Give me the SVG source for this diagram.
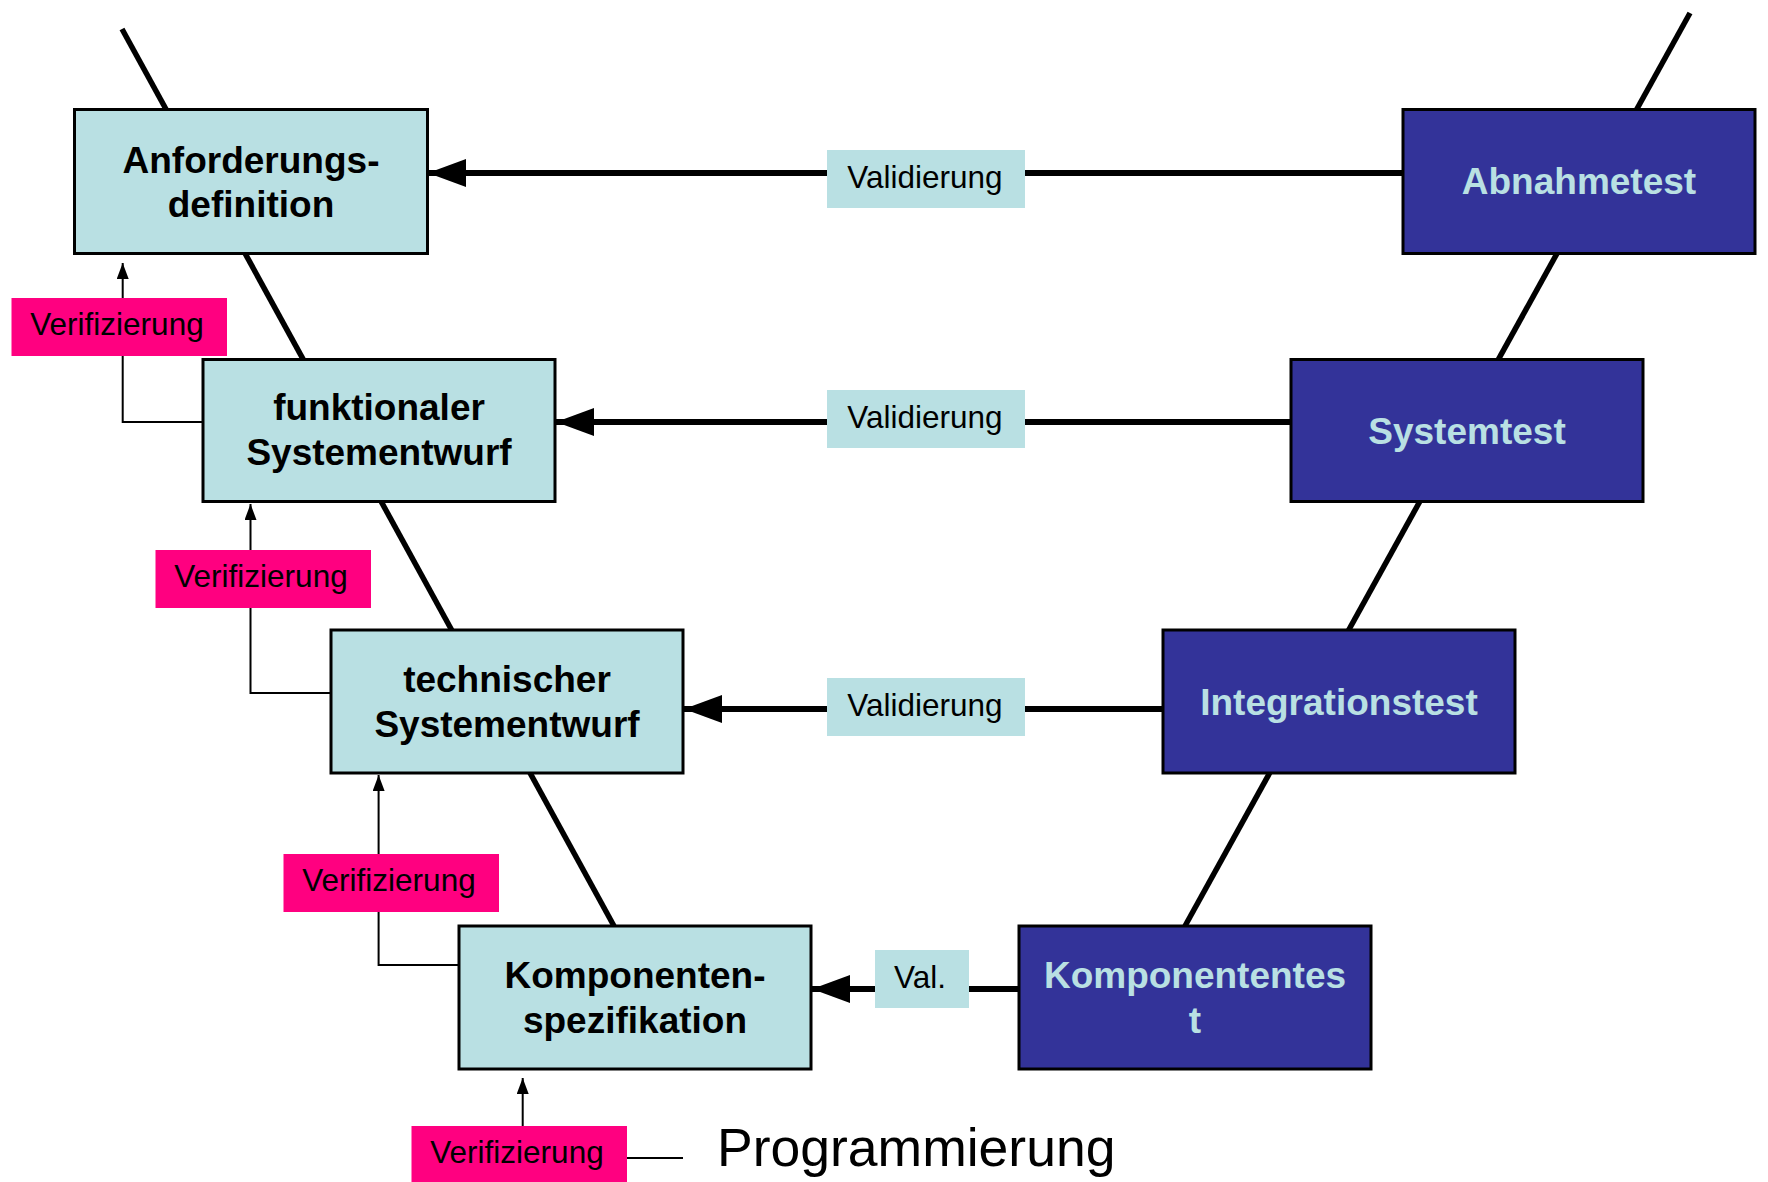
<svg xmlns="http://www.w3.org/2000/svg" width="1768" height="1182" viewBox="0 0 1768 1182">
<style>
.lt{fill:#B9E0E3;stroke:#000;stroke-width:3}
.dk{fill:#333399;stroke:#000;stroke-width:3}
.nt{font-family:"Liberation Sans",Arial,sans-serif;font-weight:bold;font-size:37px;text-anchor:middle;fill:#000}
.nd{font-family:"Liberation Sans",Arial,sans-serif;font-weight:bold;font-size:37px;text-anchor:middle;fill:#B9E0E3}
.vline{stroke:#000;stroke-width:6;fill:none}
.thin{stroke:#000;stroke-width:2;fill:none}
.diag{stroke:#000;stroke-width:5.5;fill:none}
.vlab{fill:#B9E0E3}
.plab{fill:#FF0080}
.lt2{font-family:"Liberation Sans",Arial,sans-serif;font-size:31.5px;text-anchor:middle;fill:#000}
</style>
<defs>
<marker id="big" markerUnits="userSpaceOnUse" markerWidth="40" markerHeight="30" refX="38" refY="14" orient="auto">
<path d="M0,0 L38,14 L0,28 Z" fill="#000"/>
</marker>
<marker id="small" markerUnits="userSpaceOnUse" markerWidth="18" markerHeight="14" refX="16" refY="6" orient="auto">
<path d="M0,0 L16,6 L0,12 Z" fill="#000"/>
</marker>
</defs>
<rect width="1768" height="1182" fill="#fff"/>
<g id="connectors">
<line class="diag" x1="122" y1="29" x2="614" y2="926"/>
<line class="diag" x1="1690" y1="13" x2="1185" y2="926"/>
<line class="vline" x1="1403" y1="173" x2="428" y2="173" marker-end="url(#big)"/>
<line class="vline" x1="1291" y1="422" x2="556" y2="422" marker-end="url(#big)"/>
<line class="vline" x1="1163" y1="709" x2="684" y2="709" marker-end="url(#big)"/>
<line class="vline" x1="1019" y1="989" x2="812" y2="989" marker-end="url(#big)"/>
<polyline class="thin" points="203,422 122.7,422 122.7,263" marker-end="url(#small)"/>
<polyline class="thin" points="330,693 250.5,693 250.5,504" marker-end="url(#small)"/>
<polyline class="thin" points="459,965 378.6,965 378.6,775" marker-end="url(#small)"/>
<line class="thin" x1="522.7" y1="1126" x2="522.7" y2="1078" marker-end="url(#small)"/>
<line class="thin" x1="626" y1="1158" x2="683" y2="1158"/>
<g id="val1"><rect class="vlab" x="827" y="150" width="198" height="58"/><text class="lt2" x="925" y="188">Validierung</text></g>
<g id="val2"><rect class="vlab" x="827" y="390" width="198" height="58"/><text class="lt2" x="925" y="428">Validierung</text></g>
<g id="val3"><rect class="vlab" x="827" y="678" width="198" height="58"/><text class="lt2" x="925" y="716">Validierung</text></g>
<g id="val4"><rect class="vlab" x="875" y="950" width="94" height="58"/><text class="lt2" x="920" y="988">Val.</text></g>
<g id="ver1"><rect class="plab" x="11.5" y="298" width="215.5" height="58"/><text class="lt2" x="117" y="335">Verifizierung</text></g>
<g id="ver2"><rect class="plab" x="155.5" y="550" width="215.5" height="58"/><text class="lt2" x="261" y="587">Verifizierung</text></g>
<g id="ver3"><rect class="plab" x="283.5" y="854" width="215.5" height="58"/><text class="lt2" x="389" y="891">Verifizierung</text></g>
<g id="ver4"><rect class="plab" x="411.5" y="1126" width="215.5" height="58"/><text class="lt2" x="517" y="1163">Verifizierung</text></g>
</g>
<g id="n-anforderung">
<rect class="lt" x="74.5" y="109.5" width="353" height="144"/>
<text class="nt" x="251" y="172.5">Anforderungs-</text>
<text class="nt" x="251" y="217">definition</text>
</g>
<g id="n-funktional">
<rect class="lt" x="203" y="359.5" width="352" height="142"/>
<text class="nt" x="379" y="420">funktionaler</text>
<text class="nt" x="379" y="465">Systementwurf</text>
</g>
<g id="n-technisch">
<rect class="lt" x="331" y="630" width="352" height="143"/>
<text class="nt" x="507" y="692">technischer</text>
<text class="nt" x="507" y="737">Systementwurf</text>
</g>
<g id="n-komponentenspez">
<rect class="lt" x="459" y="926" width="352" height="143"/>
<text class="nt" x="635" y="988">Komponenten-</text>
<text class="nt" x="635" y="1033">spezifikation</text>
</g>
<g id="n-abnahme">
<rect class="dk" x="1403" y="109.5" width="352" height="144"/>
<text class="nd" x="1579" y="194">Abnahmetest</text>
</g>
<g id="n-system">
<rect class="dk" x="1291" y="359.5" width="352" height="142"/>
<text class="nd" x="1467" y="444">Systemtest</text>
</g>
<g id="n-integration">
<rect class="dk" x="1163" y="630" width="352" height="143"/>
<text class="nd" x="1339" y="715">Integrationstest</text>
</g>
<g id="n-komponententest">
<rect class="dk" x="1019" y="926" width="352" height="143"/>
<text class="nd" x="1195" y="988">Komponententes</text>
<text class="nd" x="1195" y="1033">t</text>
</g>
<g id="programmierung">
<text x="717" y="1166" style="font-family:'Liberation Sans',Arial,sans-serif;font-size:53.5px;fill:#000">Programmierung</text>
</g>
</svg>
